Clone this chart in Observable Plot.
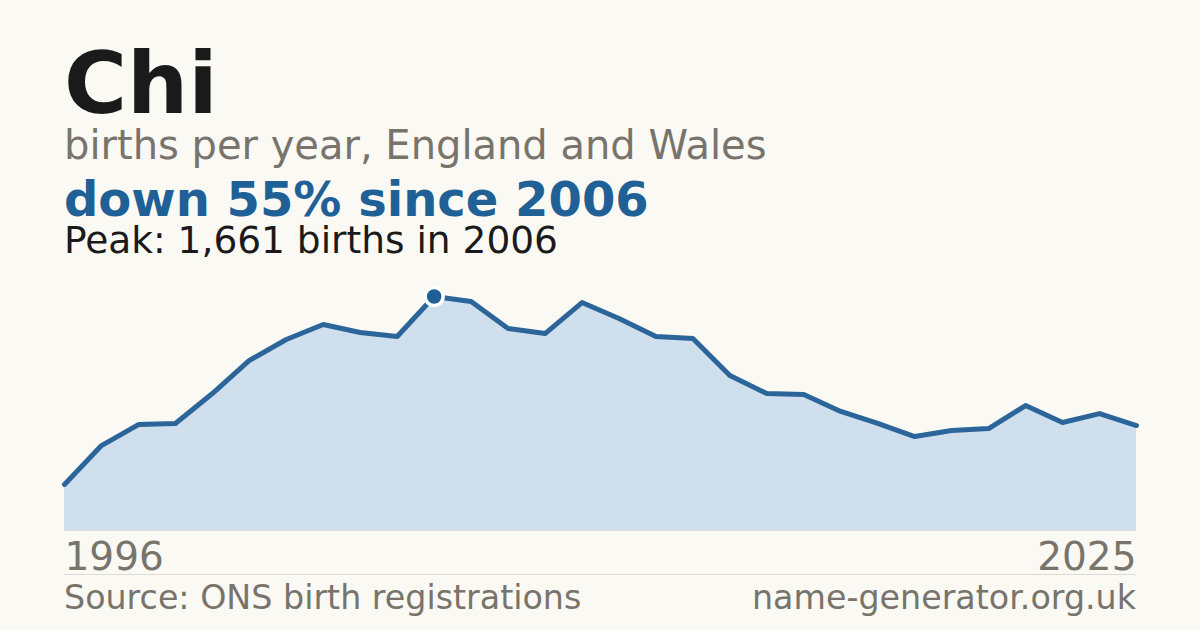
<!DOCTYPE html>
<html>
<head>
<meta charset="utf-8">
<script src="https://cdn.jsdelivr.net/npm/d3@7"></script>
<script src="https://cdn.jsdelivr.net/npm/@observablehq/plot@0.6"></script>
<style>
  html, body { margin: 0; padding: 0; }
  body { width: 1200px; height: 630px; background: #faf9f4; position: relative; overflow: hidden; font-family: "DejaVu Sans", sans-serif; }
  .t { position: absolute; left: 64px; line-height: 0.8; white-space: nowrap; }
  /* baseline = top + 0.746em with line-height 0.8 */
  #title { top: 49px; font-size: 86px; font-weight: bold; color: #1a1a1a; }
  #sub { top: 129px; font-size: 40px; color: #78746c; }
  #down { top: 180px; font-size: 48px; font-weight: bold; color: #1f6096; }
  #peak { top: 224.5px; font-size: 37.5px; color: #1a1a1a; }
  #chart { position: absolute; left: 0; top: 270px; }
  #rule { position: absolute; left: 64px; width: 1072px; top: 574px; height: 0; border-top: 1px solid #dedbd3; }
  #src { top: 585px; font-size: 33.3px; color: #78746c; }
  #site { top: 585px; font-size: 33.3px; color: #78746c; left: auto; right: 64px; }
</style>
</head>
<body>
<div class="t" id="title"></div>
<div class="t" id="sub"></div>
<div class="t" id="down"></div>
<div class="t" id="peak"></div>
<div id="chart"></div>
<div id="rule"></div>
<div class="t" id="src"></div>
<div class="t" id="site"></div>
<script>
const name = "Chi";
const subtitle = "births per year, England and Wales";
const headline = "down 55% since 2006";
const peakText = "Peak: 1,661 births in 2006";
const source = "Source: ONS birth registrations";
const site = "name-generator.org.uk";

const years = [1996, 1997, 1998, 1999, 2000, 2001, 2002, 2003, 2004, 2005,
               2006, 2007, 2008, 2009, 2010, 2011, 2012, 2013, 2014, 2015,
               2016, 2017, 2018, 2019, 2020, 2021, 2022, 2023, 2024, 2025];
const births = [327, 603, 752, 760, 972, 1207, 1356, 1462, 1405, 1377,
                1661, 1625, 1434, 1398, 1618, 1505, 1377, 1363, 1100, 972,
                965, 845, 760, 667, 710, 724, 887, 767, 830, 745];
const peakYear = 2006;
const peakValue = 1661;
const endLabels = [1996, 2025];

document.getElementById("title").textContent = name;
document.getElementById("sub").textContent = subtitle;
document.getElementById("down").textContent = headline;
document.getElementById("peak").textContent = peakText;
document.getElementById("src").textContent = source;
document.getElementById("site").textContent = site;

const data = years.map((y, i) => ({year: y, births: births[i]}));

const chart = Plot.plot({
  width: 1200,
  height: 320,
  marginLeft: 64,
  marginRight: 64,
  marginTop: 26,
  marginBottom: 60,
  x: {domain: [1996, 2025], axis: null},
  y: {domain: [0, peakValue], axis: null},
  style: {background: "transparent", fontFamily: "DejaVu Sans", overflow: "visible"},
  marks: [
    Plot.areaY(data, {x: "year", y: "births", fill: "#cfdfee"}),
    Plot.ruleY([0], {stroke: "#dcdcdc", strokeWidth: 1}),
    Plot.lineY(data, {x: "year", y: "births", stroke: "#2b6599", strokeWidth: 5, strokeLinejoin: "round"}),
    Plot.dot([{year: peakYear, births: peakValue}], {x: "year", y: "births", r: 9, fill: "#1f5f96", stroke: "#ffffff", strokeWidth: 3.5}),
    Plot.text([endLabels[0]], {x: d => d, frameAnchor: "bottom", textAnchor: "start", lineAnchor: "top", dy: 12, fontSize: 39, fill: "#78746c", text: d => String(d)}),
    Plot.text([endLabels[1]], {x: d => d, frameAnchor: "bottom", textAnchor: "end", lineAnchor: "top", dy: 12, fontSize: 39, fill: "#78746c", text: d => String(d)})
  ]
});
document.getElementById("chart").appendChild(chart);
</script>
</body>
</html>
